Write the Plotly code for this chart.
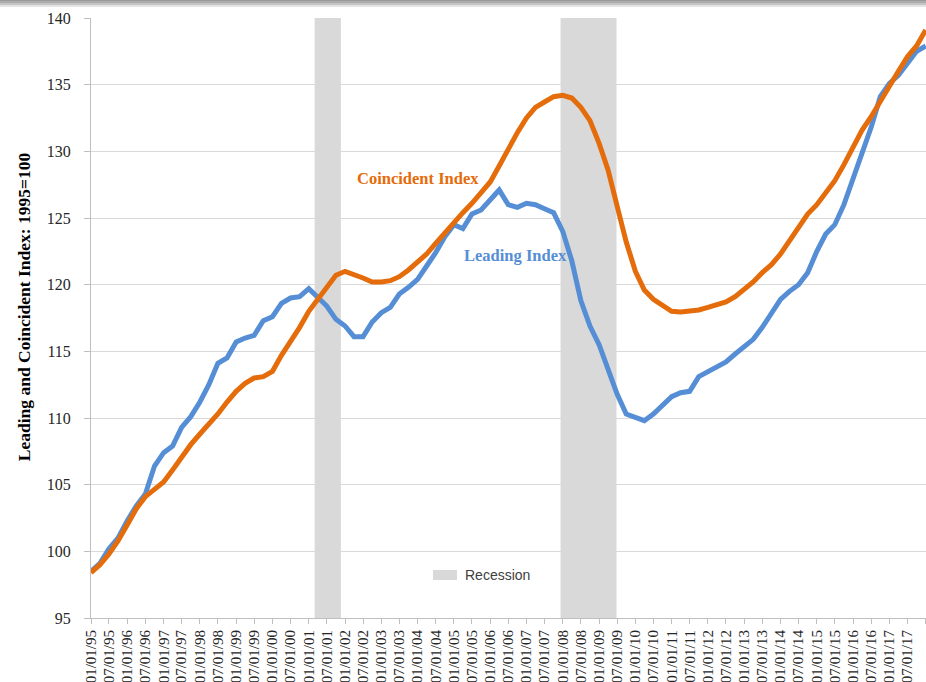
import pandas as pd
import plotly.graph_objects as go

# Quarterly observations, Jan 1995 .. Jan 2018
dates = pd.date_range("1995-01-01", "2018-01-01", freq="3MS")

coincident = [
    98.4, 99.0, 99.8, 100.8, 102.0, 103.2, 104.1, 104.6, 105.2, 106.1,
    107.1, 108.0, 108.8, 109.5, 110.3, 111.2, 112.0, 112.6, 113.0, 113.1,
    113.5, 114.7, 115.7, 116.8, 118.0, 118.9, 119.9, 120.7, 121.0, 120.8,
    120.5, 120.2, 120.2, 120.3, 120.6, 121.1, 121.7, 122.3, 123.1, 123.9,
    124.7, 125.4, 126.1, 126.9, 127.7, 128.9, 130.2, 131.4, 132.5, 133.3,
    133.7, 134.1, 134.2, 134.0, 133.3, 132.3, 130.6, 128.6, 125.9, 123.2,
    121.0, 119.6, 118.9, 118.4, 118.0, 117.95, 118.0, 118.1, 118.3, 118.5,
    118.7, 119.1, 119.6, 120.2, 120.9, 121.5, 122.3, 123.3, 124.3, 125.3,
    126.0, 126.9, 127.8, 129.0, 130.3, 131.6, 132.6, 133.8, 135.0, 136.0,
    137.1, 137.9, 139.1,
]

leading = [
    98.5, 99.1, 100.2, 101.0, 102.3, 103.4, 104.3, 106.4, 107.4, 107.9,
    109.3, 110.1, 111.2, 112.5, 114.1, 114.5, 115.7, 116.0, 116.2, 117.3,
    117.6, 118.6, 119.0, 119.1, 119.7, 119.0, 118.4, 117.4, 116.9, 116.1,
    116.1, 117.2, 117.9, 118.3, 119.3, 119.8, 120.4, 121.4, 122.4, 123.6,
    124.5, 124.2, 125.3, 125.6, 126.3, 127.1, 126.0, 125.8, 126.1, 126.0,
    125.7, 125.4, 124.0, 121.8, 118.8, 116.9, 115.5, 113.6, 111.8, 110.3,
    110.0, 109.8, 110.3, 110.9, 111.6, 111.9, 112.0, 113.1, 113.5, 113.9,
    114.2, 114.8, 115.4, 115.9, 116.8, 117.9, 118.9, 119.5, 120.0, 120.9,
    122.5, 123.8, 124.5, 126.0, 127.9, 129.7, 131.8, 134.1, 135.1, 135.7,
    136.6, 137.5, 137.9,
]

recession_start = ["2001-03-01", "2007-12-10"]
recession_end = ["2001-11-20", "2009-06-25"]

tick_dates = pd.date_range("1995-01-01", "2018-01-01", freq="6MS")
tick_labels = [d.strftime("%m/%d/%y") for d in tick_dates]

BLUE = "#558ED5"
ORANGE = "#E46C0A"
SERIF = "Liberation Serif"

fig = go.Figure()
fig.add_trace(go.Scatter(x=dates, y=leading, mode="lines", name="Leading Index",
                         line=dict(color=BLUE, width=5), showlegend=False))
fig.add_trace(go.Scatter(x=dates, y=coincident, mode="lines", name="Coincident Index",
                         line=dict(color=ORANGE, width=5), showlegend=False))

for s, e in zip(recession_start, recession_end):
    fig.add_shape(type="rect", xref="x", yref="paper", x0=s, x1=e, y0=0, y1=1,
                  fillcolor="#D9D9D9", line=dict(width=0), layer="below")

# legend swatch + label
fig.add_shape(type="rect", xref="paper", yref="paper", x0=0.4096, x1=0.4383,
              y0=0.0633, y1=0.080, fillcolor="#D9D9D9", line=dict(width=0))
fig.add_annotation(xref="paper", yref="paper", x=0.4455, y=0.0717, text="Recession",
                   showarrow=False, xanchor="left", yanchor="middle",
                   font=dict(family="Liberation Sans", size=14, color="#404040"))

fig.add_annotation(xref="paper", yref="paper", x=0.3162, y=0.7333, text="<b>Coincident Index</b>",
                   showarrow=False, xanchor="left", yanchor="middle",
                   font=dict(family=SERIF, size=16.5, color=ORANGE))
fig.add_annotation(xref="paper", yref="paper", x=0.4443, y=0.605, text="<b>Leading Index</b>",
                   showarrow=False, xanchor="left", yanchor="middle",
                   font=dict(family=SERIF, size=16.5, color=BLUE))

fig.add_annotation(xref="paper", yref="paper", x=-0.0802, y=0.518,
                   text="<b>Leading and Coincident Index: 1995=100</b>", textangle=-90,
                   showarrow=False, xanchor="center", yanchor="middle",
                   font=dict(family=SERIF, size=17.5, color="#000000"))

# top screenshot edge (gray gradient band)
for y0, y1, c in [(1.0185, 1.0215, "#e4e4e4"), (1.0215, 1.0250, "#c4c4c4"),
                  (1.0250, 1.0285, "#acacac"), (1.0285, 1.035, "#9a9a9a")]:
    fig.add_shape(type="rect", xref="paper", yref="paper", x0=-0.12, x1=1.01, y0=y0, y1=y1,
                  fillcolor=c, line=dict(width=0))

fig.update_layout(
    width=926, height=682,
    margin=dict(l=91, r=0, t=18, b=64),
    paper_bgcolor="white", plot_bgcolor="white",
    showlegend=False,
    xaxis=dict(
        range=["1995-01-01", "2018-01-04"],
        tickvals=tick_dates, ticktext=tick_labels, tickangle=-90,
        tickfont=dict(family=SERIF, size=15, color="#262626"),
        showgrid=False, zeroline=False,
        showline=True, linecolor="#BFBFBF", linewidth=1,
        ticks="outside", ticklen=5, tickcolor="#BFBFBF",
    ),
    yaxis=dict(
        range=[95, 140], dtick=5, tick0=95,
        tickfont=dict(family=SERIF, size=16, color="#262626"),
        showgrid=True, gridcolor="#D9D9D9", gridwidth=1, zeroline=False,
        showline=True, linecolor="#BFBFBF", linewidth=1,
        ticks="outside", ticklen=6, tickcolor="#BFBFBF",
        ticklabelstandoff=10,
    ),
)

fig.write_html("out.html",
               config={"displayModeBar": False},
               post_script="document.body.style.margin='0';document.body.style.overflow='hidden';")
